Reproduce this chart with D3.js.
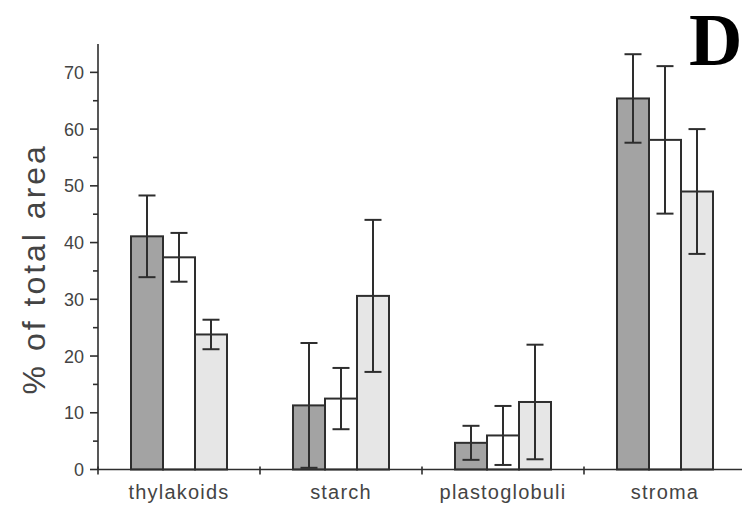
<!DOCTYPE html>
<html>
<head>
<meta charset="utf-8">
<script src="https://cdn.jsdelivr.net/npm/d3@7/dist/d3.min.js"></script>
<style>
	body { margin: 0; background: #fff; }
	svg { display: block; }
	.tick-label { font-family: "Liberation Sans", Arial, sans-serif; fill: #444; }
</style>
</head>
<body>
<div id="fill"></div>
<script>
var categories = ['thylakoids', 'starch', 'plastoglobuli', 'stroma'];

// three treatments, one per bar in each group (dark, white, light)
var series1 = [41.1, 11.3, 4.7, 65.4];
var series1Err = [7.2, 11.0, 3.0, 7.8];
var series2 = [37.4, 12.5, 6.0, 58.1];
var series2Err = [4.3, 5.4, 5.2, 13.0];
var series3 = [23.8, 30.6, 11.9, 49.0];
var series3Err = [2.6, 13.4, 10.1, 11.0];

var yTicks = [0, 10, 20, 30, 40, 50, 60, 70];
var yMinorTicks = [5, 15, 25, 35, 45, 55, 65];

var series = [
	{ values: series1, err: series1Err, fill: '#a3a3a3' },
	{ values: series2, err: series2Err, fill: '#ffffff' },
	{ values: series3, err: series3Err, fill: '#e6e6e6' }
];

var w = 742, h = 506;
var padL = 98, padR = 746, padT = 44, padB = 469.5;

var svg = d3.select('#fill')
	.append('svg')
		.attr('width', w)
		.attr('height', h);

var x = d3.scaleBand()
	.domain(categories)
	.range([padL, padR]);

var y = d3.scaleLinear()
	.domain([0, 75])
	.range([padB, padT]);

var barW = 32;
var inner = d3.scaleBand()
	.domain(d3.range(series.length))
	.range([0, barW * series.length]);
var groupOff = (x.bandwidth() - barW * series.length) / 2;

// bars
series.forEach(function(s, si) {
	svg.append('g').selectAll('rect')
			.data(s.values)
		.enter().append('rect')
			.attr('x', function(d, i) { return x(categories[i]) + groupOff + inner(si); })
			.attr('y', function(d) { return y(d); })
			.attr('width', inner.bandwidth())
			.attr('height', function(d) { return y(0) - y(d); })
			.attr('fill', s.fill)
			.attr('stroke', '#2e2e2e')
			.attr('stroke-width', 2);
});

// error bars
series.forEach(function(s, si) {
	var g = svg.append('g')
		.attr('stroke', '#2e2e2e')
		.attr('stroke-width', 2);
	s.values.forEach(function(d, i) {
		var cx = x(categories[i]) + groupOff + inner(si) + inner.bandwidth() / 2;
		var lo = d - s.err[i], hi = d + s.err[i];
		g.append('line')
			.attr('x1', cx).attr('x2', cx)
			.attr('y1', y(lo)).attr('y2', y(hi));
		g.append('line')
			.attr('x1', cx - 8.5).attr('x2', cx + 8.5)
			.attr('y1', y(hi)).attr('y2', y(hi));
		g.append('line')
			.attr('x1', cx - 8.5).attr('x2', cx + 8.5)
			.attr('y1', y(lo)).attr('y2', y(lo));
	});
});

// y axis
var yAxis = svg.append('g')
	.attr('stroke', '#2e2e2e')
	.attr('stroke-width', 1.6);

yAxis.append('line')
	.attr('x1', padL).attr('x2', padL)
	.attr('y1', padT).attr('y2', padB);

yAxis.selectAll('line.major')
		.data(yTicks)
	.enter().append('line')
		.attr('class', 'major')
		.attr('x1', padL - 8).attr('x2', padL)
		.attr('y1', y).attr('y2', y);

yAxis.selectAll('line.minor')
		.data(yMinorTicks)
	.enter().append('line')
		.attr('class', 'minor')
		.attr('x1', padL - 5).attr('x2', padL)
		.attr('y1', y).attr('y2', y);

svg.selectAll('text.ylab')
		.data(yTicks)
	.enter().append('text')
		.attr('class', 'ylab tick-label')
		.attr('x', padL - 14)
		.attr('y', y)
		.attr('dy', '0.36em')
		.attr('text-anchor', 'end')
		.attr('font-size', 18)
		.text(String);

// x axis with ticks between groups
var xAxis = svg.append('g')
	.attr('stroke', '#2e2e2e')
	.attr('stroke-width', 1.6);

xAxis.append('line')
	.attr('x1', padL).attr('x2', w)
	.attr('y1', padB).attr('y2', padB);

xAxis.selectAll('line.xt')
		.data(categories)
	.enter().append('line')
		.attr('class', 'xt')
		.attr('x1', function(d) { return x(d); })
		.attr('x2', function(d) { return x(d); })
		.attr('y1', padB - 3).attr('y2', padB + 5);

svg.selectAll('text.xlab')
		.data(categories)
	.enter().append('text')
		.attr('class', 'xlab tick-label')
		.attr('x', function(d) { return x(d) + x.bandwidth() / 2; })
		.attr('y', padB + 29)
		.attr('text-anchor', 'middle')
		.attr('font-size', 20)
		.attr('letter-spacing', 1.2)
		.text(String);

// axis title
svg.append('text')
	.attr('class', 'tick-label')
	.attr('transform', 'translate(45,' + ((padT + padB) / 2 + 12) + ') rotate(-90)')
	.attr('text-anchor', 'middle')
	.attr('font-size', 32)
	.attr('letter-spacing', 3)
	.text('% of total area');

// panel letter
svg.append('text')
	.attr('x', 689)
	.attr('y', 65)
	.attr('font-family', '"Liberation Serif", "Times New Roman", serif')
	.attr('font-weight', 'bold')
	.attr('font-size', 74)
	.attr('fill', '#000')
	.text('D');
</script>
</body>
</html>
